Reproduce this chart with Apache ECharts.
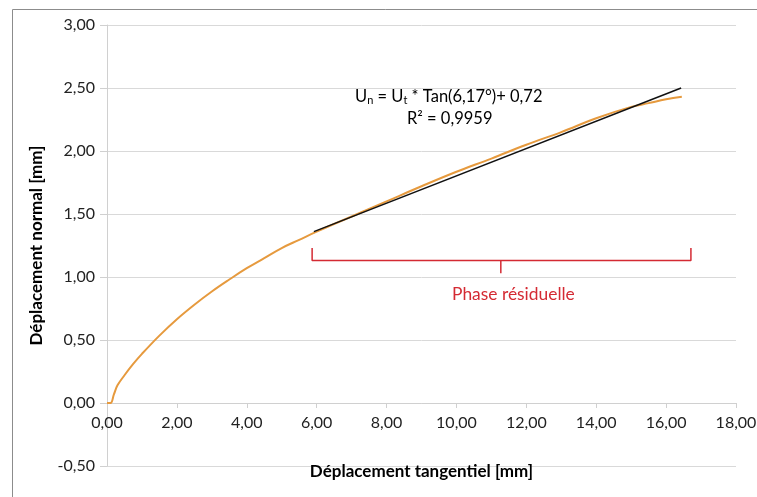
<!DOCTYPE html>
<html>
<head>
<meta charset="utf-8">
<script src="https://cdn.jsdelivr.net/npm/echarts@6/dist/echarts.min.js"></script>
<style>
  html, body { margin: 0; padding: 0; background: #fff; }
  #chart { width: 757px; height: 497px; }
</style>
</head>
<body>
<div id="chart"></div>
<script>
// courbe mesurée (déplacement tangentiel / normal)
const dispT = [0, 0.1, 0.2, 0.3, 0.5, 0.75, 1.0, 1.5, 2.0, 2.5, 3.0, 3.5, 4.0, 4.5, 5.0, 5.5, 6.0, 7.0, 8.0, 9.0, 10.0, 11.0, 12.0, 13.0, 14.0, 15.0, 15.5, 16.0, 16.45];
const dispN = [0, 0, 0.07, 0.14, 0.22, 0.31, 0.39, 0.535, 0.665, 0.78, 0.885, 0.98, 1.07, 1.15, 1.23, 1.295, 1.36, 1.48, 1.60, 1.72, 1.835, 1.94, 2.05, 2.15, 2.26, 2.35, 2.38, 2.41, 2.43];
// droite de régression
const fitT = [5.92, 16.43];
const fitN = [1.36, 2.50];
// accolade "Phase résiduelle"
const braceT = [5.87, 5.87, 11.27, 11.27, 11.27, 16.71, 16.71];
const braceN = [1.23, 1.13, 1.13, 1.03, 1.13, 1.13, 1.23];

const FONT = 'Lato';
const fmt = v => v.toFixed(2).replace('.', ',');
const pairs = (a, b) => a.map((v, i) => [v, b[i]]);

const chart = echarts.init(document.getElementById('chart'));
chart.setOption({
  animation: false,
  textStyle: { fontFamily: FONT },
  grid: { left: 107, right: 21, top: 25, bottom: 31, outerBoundsMode: 'none', containLabel: false },
  xAxis: {
    type: 'value', min: 0, max: 18, interval: 2,
    // l'axe passe par y = 0 (une demi-graduation au-dessus du bas)
    position: 'bottom', offset: -63,
    name: 'Déplacement tangentiel [mm]',
    nameLocation: 'middle', nameGap: 60,
    nameTextStyle: { fontSize: 17, fontWeight: 'bold', color: '#000', fontFamily: FONT },
    axisLine: { onZero: false, lineStyle: { color: '#d0d0d0' } },
    axisTick: { show: true, length: 5, lineStyle: { color: '#d0d0d0' } },
    axisLabel: { formatter: fmt, fontSize: 16, color: '#222', margin: 12, fontFamily: FONT },
    splitLine: { show: false }
  },
  yAxis: {
    type: 'value', min: -0.5, max: 3, interval: 0.5,
    name: 'Déplacement normal [mm]',
    nameLocation: 'middle', nameGap: 62,
    nameTextStyle: { fontSize: 17, fontWeight: 'bold', color: '#000', fontFamily: FONT },
    axisLine: { show: true, lineStyle: { color: '#d0d0d0' } },
    axisTick: { show: true, length: 7, lineStyle: { color: '#d0d0d0' } },
    axisLabel: { formatter: fmt, fontSize: 16, color: '#222', margin: 12, fontFamily: FONT },
    splitLine: { lineStyle: { color: '#d9d9d9' } }
  },
  graphic: [
    { type: 'rect', shape: { x: 12.5, y: 9.5, width: 800, height: 600 }, style: { fill: 'none', stroke: '#8c8c8c', lineWidth: 1 }, silent: true },
    {
      type: 'text', left: 355, top: 88,
      style: {
        text: '{n|U}{s|n}{n| = U}{s|t}{n| * Tan(6,17°)+ 0,72}',
        rich: {
          n: { fontSize: 16.5, fontFamily: FONT, fill: '#000' },
          s: { fontSize: 11, fontFamily: FONT, fill: '#000', padding: [8, 0, 0, 0] }
        }
      }
    },
    {
      type: 'text', left: 407, top: 110,
      style: { text: 'R² = 0,9959', fontSize: 16.5, fontFamily: FONT, fill: '#000' }
    },
    {
      type: 'text', left: 452, top: 286,
      style: { text: 'Phase résiduelle', fontSize: 17.4, fontFamily: FONT, fill: '#d42a33' }
    }
  ],
  series: [
    {
      type: 'line', data: pairs(dispT, dispN), showSymbol: false, smooth: 0.4,
      lineStyle: { color: '#e69a3e', width: 2 }, z: 3
    },
    {
      type: 'line', data: pairs(fitT, fitN), showSymbol: false,
      lineStyle: { color: '#111', width: 1.5 }, z: 4
    },
    {
      type: 'line', data: pairs(braceT, braceN), showSymbol: false,
      lineStyle: { color: '#d42a33', width: 1.5 }, z: 2
    }
  ]
});
</script>
</body>
</html>
